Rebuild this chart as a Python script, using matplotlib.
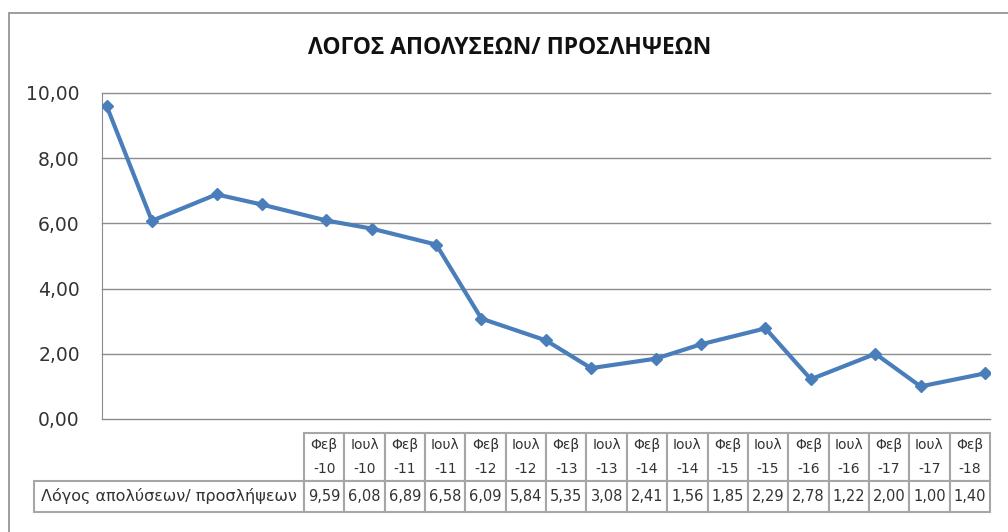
import matplotlib
matplotlib.use("Agg")
import matplotlib.pyplot as plt
import matplotlib.ticker as plticker
from matplotlib.patches import Rectangle
import pandas as pd

periods = ["Φεβ-10", "Ιουλ-10", "Φεβ-11", "Ιουλ-11", "Φεβ-12", "Ιουλ-12",
           "Φεβ-13", "Ιουλ-13", "Φεβ-14", "Ιουλ-14", "Φεβ-15", "Ιουλ-15",
           "Φεβ-16", "Ιουλ-16", "Φεβ-17", "Ιουλ-17", "Φεβ-18"]
dates = ["2010-02-01", "2010-07-01", "2011-02-01", "2011-07-01", "2012-02-01",
         "2012-07-01", "2013-02-01", "2013-07-01", "2014-02-01", "2014-07-01",
         "2015-02-01", "2015-07-01", "2016-02-01", "2016-07-01", "2017-02-01",
         "2017-07-01", "2018-02-01"]
ratio = [9.59, 6.08, 6.89, 6.58, 6.09, 5.84, 5.35, 3.08, 2.41, 1.56,
         1.85, 2.29, 2.78, 1.22, 2.00, 1.00, 1.40]
yticks = [0, 2, 4, 6, 8, 10]
title = "ΛΟΓΟΣ ΑΠΟΛΥΣΕΩΝ/ ΠΡΟΣΛΗΨΕΩΝ"
row_label = "Λόγος απολύσεων/ προσλήψεων"

W, H = 1008, 532
fig = plt.figure(figsize=(W / 100, H / 100), dpi=100)

# chart border (runs off the right / bottom edge)
fig.add_artist(Rectangle((9 / W, -0.1), 1.2, 1 - 13 / H + 0.1,
                         transform=fig.transFigure, fill=False,
                         edgecolor="#8c8c8c", linewidth=1.2))

ax = fig.add_axes([102 / W, 1 - 419 / H, 888 / W, 326 / H])
x = pd.to_datetime(dates)
ax.plot(x, ratio, color="#4A7EBB", linewidth=3, marker="D", markersize=6.5,
        solid_joinstyle="round", zorder=3)
ax.set_xlim(x[0] - pd.Timedelta(days=16), x[-1] + pd.Timedelta(days=16))
ax.set_ylim(0, 10)
ax.set_yticks(yticks)
ax.yaxis.set_major_formatter(plticker.FuncFormatter(lambda v, p: f"{v:.2f}".replace(".", ",")))
ax.set_xticks([])
ax.grid(axis="y", color="#8c8c8c", linewidth=1)
for gl in ax.get_ygridlines():
    gl.set_clip_on(False)
for s in ["top", "right", "bottom"]:
    ax.spines[s].set_visible(False)
ax.spines["left"].set_color("#8c8c8c")
ax.tick_params(axis="y", length=0, pad=16, labelsize=13.5, labelcolor="#333333")

fig.text(510 / W, 1 - 48 / H, title, ha="center", va="center",
         fontsize=16.5, fontweight="bold", family="Open Sans", color="#111111")

# data table under the chart
tw, th = 956, 79          # table axes size in px
lab_w, col_w = 270, 686 / len(periods)
tax = fig.add_axes([34 / W, 1 - 512 / H, tw / W, th / H])
tax.axis("off")
tab = tax.table(cellText=[[f"{v:.2f}".replace(".", ",") for v in ratio]],
                colLabels=[p.replace("-", "\n-") for p in periods],
                cellLoc="center",
                bbox=[lab_w / tw, 0, 1 - lab_w / tw, 1])
tab.add_cell(1, -1, lab_w / tw, 31 / th, text=row_label, loc="center")
tab.auto_set_font_size(False)
for (r, c), cell in tab.get_celld().items():
    cell.set_edgecolor("#a6a6a6")
    cell.set_linewidth(1.5)
    txt = cell.get_text()
    txt.set_color("#333333")
    cell.set_width((lab_w if c == -1 else col_w) / tw)
    cell.set_height((48 if r == 0 else 31) / th)
    if r == 0:
        txt.set_fontsize(10)
        txt.set_linespacing(1.9)
    elif c == -1:
        txt.set_fontsize(11.5)
    else:
        txt.set_fontsize(10.5)

fig.savefig("out.png", dpi=100)
